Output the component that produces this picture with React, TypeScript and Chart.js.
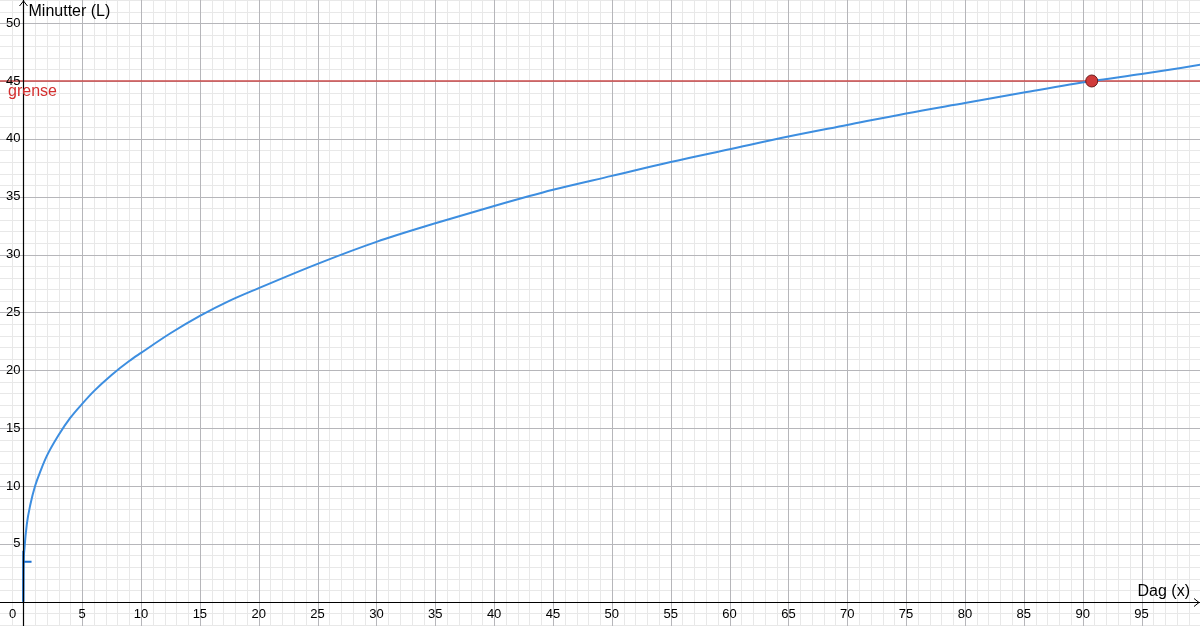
import { useEffect, useRef } from "react";
import { Chart, registerables } from "chart.js";

Chart.register(...registerables);

// curve: day (x) -> minutes (L)
const CURVE_X = [0, 0.02, 0.1, 0.3, 0.6, 1, 1.5, 2, 3, 4, 5, 6, 7.5, 9, 10, 12.5, 15, 17.5, 20, 25, 30, 35, 40, 45, 50, 55, 60, 65, 70, 75, 80, 85, 90.8, 95, 100];
const CURVE_Y = [0, 2.7, 4.6, 6.7, 8.4, 10, 11.4, 12.6, 14.4, 15.9, 17.1, 18.2, 19.6, 20.8, 21.5, 23.2, 24.7, 26.0, 27.1, 29.2, 31.1, 32.7, 34.2, 35.6, 36.8, 38.0, 39.1, 40.2, 41.2, 42.2, 43.1, 44.0, 45, 45.6, 46.4];

// small mark near origin
const MARK_X = [0, 0, null, 0, 0.7];
const MARK_Y = [0, 4.4, null, 3.46, 3.46];

const LIMIT = 45;
const LIMIT_LABEL = "grense";
const CROSS_X = [90.77];
const CROSS_Y = [45];

const X_TICKS = [0, 5, 10, 15, 20, 25, 30, 35, 40, 45, 50, 55, 60, 65, 70, 75, 80, 85, 90, 95];
const Y_TICKS = [5, 10, 15, 20, 25, 30, 35, 40, 45, 50];
const X_TITLE = "Dag (x)";
const Y_TITLE = "Minutter (L)";

const X_MIN = -1.98;
const X_MAX = 99.97;
const Y_MIN = -2.1;
const Y_MAX = 52.0;

const FONT = "Liberation Sans, Arial, sans-serif";

const gridPlugin = {
  id: "geoGrid",
  beforeDatasetsDraw(chart: any) {
    const { ctx } = chart;
    const xs = chart.scales.x;
    const ys = chart.scales.y;
    const w = chart.width;
    const h = chart.height;
    ctx.save();
    ctx.lineWidth = 1;
    const pass = (major: boolean) => {
      ctx.strokeStyle = major ? "#b6b6ba" : "#e8e8e8";
      ctx.beginPath();
      for (let v = Math.ceil(X_MIN); v <= X_MAX; v++) {
        if (v === 0 || (v % 5 === 0) !== major) continue;
        const px = Math.round(xs.getPixelForValue(v)) + 0.5;
        ctx.moveTo(px, 0);
        ctx.lineTo(px, h);
      }
      for (let v = Math.ceil(Y_MIN); v <= Y_MAX; v++) {
        if (v === 0 || (v % 5 === 0) !== major) continue;
        const py = Math.round(ys.getPixelForValue(v)) + 0.5;
        ctx.moveTo(0, py);
        ctx.lineTo(w, py);
      }
      ctx.stroke();
    };
    pass(false);
    pass(true);
    ctx.restore();
  },
  afterDatasetsDraw(chart: any) {
    const { ctx } = chart;
    const xs = chart.scales.x;
    const ys = chart.scales.y;
    const x0 = Math.round(xs.getPixelForValue(0)) + 0.5;
    const y0 = Math.round(ys.getPixelForValue(0)) + 0.5;
    const w = chart.width;
    const h = chart.height;
    ctx.save();
    ctx.strokeStyle = "#000";
    ctx.lineWidth = 1.2;
    ctx.beginPath();
    ctx.moveTo(0, y0);
    ctx.lineTo(w, y0);
    ctx.moveTo(x0, h);
    ctx.lineTo(x0, 0);
    ctx.stroke();
    // arrows
    ctx.lineWidth = 1;
    ctx.beginPath();
    ctx.moveTo(w - 6, y0 - 4);
    ctx.lineTo(w - 1, y0);
    ctx.lineTo(w - 6, y0 + 4);
    ctx.moveTo(x0 - 4, 6);
    ctx.lineTo(x0, 1);
    ctx.lineTo(x0 + 4, 6);
    ctx.stroke();

    ctx.fillStyle = "#000";
    ctx.font = `13px ${FONT}`;
    ctx.textAlign = "center";
    ctx.textBaseline = "middle";
    X_TICKS.forEach((v) => {
      const px = v === 0 ? x0 - 11 : xs.getPixelForValue(v);
      ctx.fillText(String(v), px, y0 + 12);
    });
    ctx.textAlign = "right";
    Y_TICKS.forEach((v) => {
      ctx.fillText(String(v), x0 - 3, ys.getPixelForValue(v));
    });

    ctx.font = `16px ${FONT}`;
    ctx.textAlign = "left";
    ctx.textBaseline = "middle";
    ctx.fillText(Y_TITLE, x0 + 5, 12);
    ctx.textAlign = "right";
    ctx.fillText(X_TITLE, w - 10, y0 - 11);

    ctx.fillStyle = "#d32f2f";
    ctx.font = `16px ${FONT}`;
    ctx.textAlign = "left";
    ctx.fillText(LIMIT_LABEL, 8, ys.getPixelForValue(LIMIT) + 11);
    ctx.restore();
  },
};

export default function App() {
  const canvasRef = useRef<HTMLCanvasElement>(null);

  useEffect(() => {
    if (!canvasRef.current) return;
    const chart = new Chart(canvasRef.current, {
      type: "scatter",
      data: {
        datasets: [
          {
            data: [
              { x: X_MIN, y: LIMIT },
              { x: X_MAX, y: LIMIT },
            ],
            showLine: true,
            borderColor: "#cc4b4b",
            borderWidth: 1.5,
            pointRadius: 0,
            order: 3,
          },
          {
            data: CURVE_X.map((x, i) => ({ x, y: CURVE_Y[i] })),
            showLine: true,
            borderColor: "#3d8ee0",
            borderWidth: 2,
            pointRadius: 0,
            cubicInterpolationMode: "monotone",
            order: 2,
          },
          {
            data: MARK_X.map((x, i) => ({ x, y: MARK_Y[i] })) as any,
            showLine: true,
            spanGaps: false,
            borderColor: "#1a6fd0",
            borderWidth: 2,
            pointRadius: 0,
            order: 1,
          },
          {
            data: CROSS_X.map((x, i) => ({ x, y: CROSS_Y[i] })),
            pointRadius: 6,
            pointBackgroundColor: "#d03b3b",
            pointBorderColor: "#6b1a1a",
            pointBorderWidth: 1,
            order: 0,
          },
        ],
      },
      options: {
        animation: false,
        responsive: false,
        maintainAspectRatio: false,
        layout: { padding: 0, autoPadding: false },
        plugins: {
          legend: { display: false },
          tooltip: { enabled: false },
        },
        scales: {
          x: { type: "linear", display: false, min: X_MIN, max: X_MAX },
          y: { type: "linear", display: false, min: Y_MIN, max: Y_MAX },
        },
      },
      plugins: [gridPlugin],
    });
    return () => chart.destroy();
  }, []);

  return (
    <div style={{ position: "fixed", left: 0, top: 0, width: 1200, height: 626, background: "#fff" }}>
      <canvas ref={canvasRef} width={1200} height={626} style={{ width: 1200, height: 626 }} />
    </div>
  );
}
